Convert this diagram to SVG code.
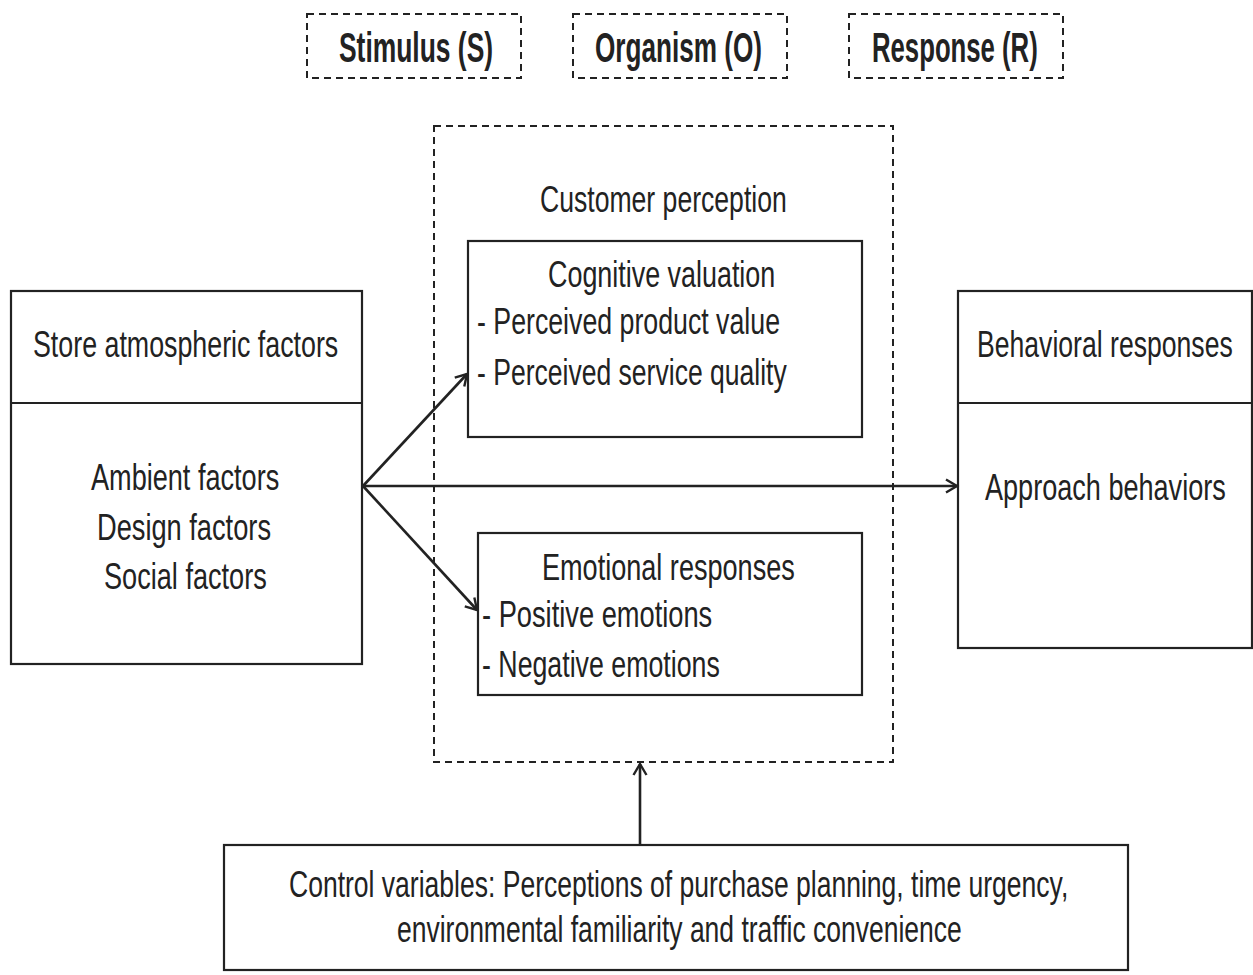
<svg xmlns="http://www.w3.org/2000/svg" width="1253" height="975" viewBox="0 0 1253 975">
<style>
.box{fill:none;stroke:#222;stroke-width:2.2}
.dash{fill:none;stroke:#222;stroke-width:2;stroke-dasharray:7 5}
.t{font-family:"Liberation Sans",Arial,sans-serif;font-size:36px;fill:#222}
.h{font-family:"Liberation Sans",Arial,sans-serif;font-size:42px;font-weight:bold;fill:#222}
.c{stroke:#222;stroke-width:2.6;fill:none}
</style>
<defs>
<marker id="arr" markerWidth="16" markerHeight="16" refX="13" refY="8" orient="auto" markerUnits="userSpaceOnUse">
<path d="M2,1.5 L13,8 L2,14.5" fill="none" stroke="#222" stroke-width="2.4"/>
</marker>
</defs>
<rect width="1253" height="975" fill="#fff"/>
<g id="header-s"><rect class="dash" x="307" y="14" width="214" height="64"/><text class="h" transform="translate(339,62) scale(0.65,1)" textLength="237" lengthAdjust="spacingAndGlyphs">Stimulus (S)</text></g>
<g id="header-o"><rect class="dash" x="573" y="14" width="214" height="64"/><text class="h" transform="translate(595,62) scale(0.65,1)" textLength="257" lengthAdjust="spacingAndGlyphs">Organism (O)</text></g>
<g id="header-r"><rect class="dash" x="849" y="14" width="214" height="64"/><text class="h" transform="translate(872,62) scale(0.65,1)" textLength="255" lengthAdjust="spacingAndGlyphs">Response (R)</text></g>
<g id="stimulus"><rect class="box" x="11" y="291" width="351" height="373"/><line class="box" x1="11" y1="403" x2="362" y2="403"/>
<text class="t" transform="translate(33,357) scale(0.75,1)" textLength="407" lengthAdjust="spacingAndGlyphs">Store atmospheric factors</text>
<text class="t" transform="translate(91,490) scale(0.75,1)" textLength="251" lengthAdjust="spacingAndGlyphs">Ambient factors</text>
<text class="t" transform="translate(97,540) scale(0.75,1)" textLength="232" lengthAdjust="spacingAndGlyphs">Design factors</text>
<text class="t" transform="translate(104,589) scale(0.75,1)" textLength="217" lengthAdjust="spacingAndGlyphs">Social factors</text></g>
<g id="organism"><rect class="dash" x="434" y="126" width="459" height="636"/>
<text class="t" transform="translate(540,212) scale(0.75,1)" textLength="329" lengthAdjust="spacingAndGlyphs">Customer perception</text></g>
<g id="cognitive"><rect class="box" x="468" y="241" width="394" height="196"/>
<text class="t" transform="translate(548,287) scale(0.75,1)" textLength="303" lengthAdjust="spacingAndGlyphs">Cognitive valuation</text>
<text class="t" transform="translate(477,334) scale(0.75,1)" textLength="404" lengthAdjust="spacingAndGlyphs">- Perceived product value</text>
<text class="t" transform="translate(477,385) scale(0.75,1)" textLength="413" lengthAdjust="spacingAndGlyphs">- Perceived service quality</text></g>
<g id="emotional"><rect class="box" x="478" y="533" width="384" height="162"/>
<text class="t" transform="translate(542,580) scale(0.75,1)" textLength="337" lengthAdjust="spacingAndGlyphs">Emotional responses</text>
<text class="t" transform="translate(482,627) scale(0.75,1)" textLength="307" lengthAdjust="spacingAndGlyphs">- Positive emotions</text>
<text class="t" transform="translate(482,677) scale(0.75,1)" textLength="317" lengthAdjust="spacingAndGlyphs">- Negative emotions</text></g>
<g id="response"><rect class="box" x="958" y="291" width="294" height="357"/><line class="box" x1="958" y1="403" x2="1252" y2="403"/>
<text class="t" transform="translate(977,357) scale(0.75,1)" textLength="341" lengthAdjust="spacingAndGlyphs">Behavioral responses</text>
<text class="t" transform="translate(985,500) scale(0.75,1)" textLength="321" lengthAdjust="spacingAndGlyphs">Approach behaviors</text></g>
<g id="control"><rect class="box" x="224" y="845" width="904" height="125"/>
<text class="t" transform="translate(289,897) scale(0.75,1)" textLength="1039" lengthAdjust="spacingAndGlyphs">Control variables: Perceptions of purchase planning, time urgency,</text>
<text class="t" transform="translate(397,942) scale(0.75,1)" textLength="753" lengthAdjust="spacingAndGlyphs">environmental familiarity and traffic convenience</text></g>
<g id="connectors">
<line class="c" x1="363" y1="486" x2="467" y2="374" marker-end="url(#arr)"/>
<line class="c" x1="363" y1="486" x2="477" y2="610" marker-end="url(#arr)"/>
<line class="c" x1="363" y1="486" x2="957" y2="486" marker-end="url(#arr)"/>
<line class="c" x1="640" y1="845" x2="640" y2="764" marker-end="url(#arr)"/>
</g>
</svg>
